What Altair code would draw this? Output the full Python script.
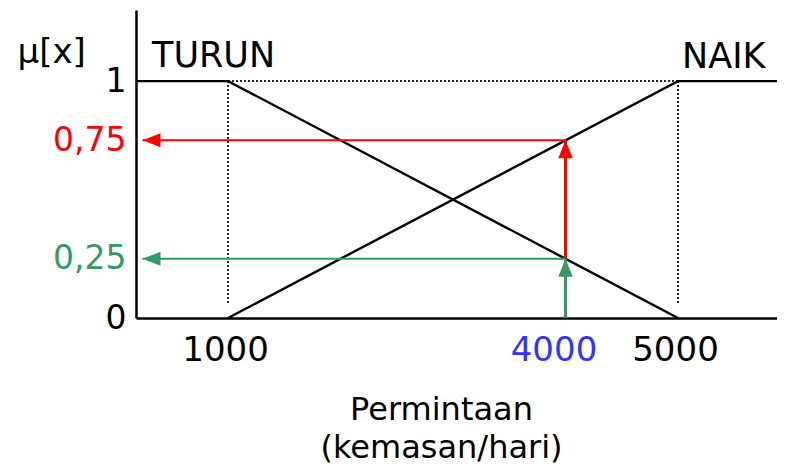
import altair as alt
import pandas as pd

# ---- data ----
turun_x = [0, 1000, 5000]        # TURUN membership vertices (left end runs off the axis)
turun_mu = [1, 1, 0]
naik_x = [1000, 5000, 7000]      # NAIK membership vertices (right end runs off the axis)
naik_mu = [0, 1, 1]

input_x = 4000                   # demand value being evaluated
mu_naik = 0.75                   # membership in NAIK at input_x
mu_turun = 0.25                  # membership in TURUN at input_x

x_ticks = [1000, 4000, 5000]
y_ticks = [0, 0.25, 0.75, 1]

set_names = ["TURUN", "NAIK"]
set_anchor_x = [1000, 5000]

x_title = ["Permintaan", "(kemasan/hari)"]
y_title = "μ[x]"

# ---- styling / layout ----
RED = "#FF0000"
GREEN = "#339966"
BLUE = "#3333FF"
FONT = "DejaVu Sans"

X_DOMAIN = [182, 5880]
Y_DOMAIN = [0, 1.3]
ARROW_TIP_X = 240      # arrows stop just right of the y axis
DOT_BOTTOM = 0.055     # dotted guides stop just above the x axis

x_scale = alt.Scale(domain=X_DOMAIN, nice=False, zero=False)
y_scale = alt.Scale(domain=Y_DOMAIN, nice=False, zero=False)

x_axis = alt.Axis(
    values=x_ticks, format="d", grid=False, ticks=False, domainColor="black", domainWidth=2.5,
    labelFont=FONT, labelFontSize=34, labelPadding=15, labelFlush=False, labelOverlap=False,
    labelColor={"condition": {"test": f"datum.value == {input_x}", "value": BLUE}, "value": "black"},
    labelOffset={"condition": {"test": f"datum.value == {input_x}", "value": -12}, "value": -3},
    title=x_title, titleFont=FONT, titleFontSize=32, titleFontWeight="normal", titleColor="black",
    titleX=305, titleY=101, titleAlign="center", titleBaseline="alphabetic", titleLineHeight=38,
)
y_axis = alt.Axis(
    values=y_ticks, grid=False, ticks=False, domainColor="black", domainWidth=2.5,
    labelFont=FONT, labelFontSize=33, labelPadding=10, labelOverlap=False, labelFlush=False,
    labelExpr="replace(toString(datum.value), '.', ',')",
    labelColor={"condition": [
        {"test": f"datum.value == {mu_naik}", "value": RED},
        {"test": f"datum.value == {mu_turun}", "value": GREEN}], "value": "black"},
    title=y_title, titleAngle=0, titleX=-119, titleY=52, titleAlign="left",
    titleBaseline="alphabetic", titleFont=FONT, titleFontSize=34, titleFontWeight="normal",
    titleColor="black",
)


def X(field="x"):
    return alt.X(f"{field}:Q", scale=x_scale, axis=x_axis)


def Y(field="y"):
    return alt.Y(f"{field}:Q", scale=y_scale, axis=y_axis)


# membership functions
df_lines = pd.DataFrame({
    "x": turun_x + naik_x,
    "y": turun_mu + naik_mu,
    "set": ["TURUN"] * len(turun_x) + ["NAIK"] * len(naik_x),
})
lines = alt.Chart(df_lines).mark_line(color="black", strokeWidth=2.4, clip=True).encode(
    x=X(), y=Y(), detail="set:N"
)

# dotted guides
df_dots = pd.DataFrame({
    "x": [turun_x[1], naik_x[1], turun_x[1]],
    "y": [1, 1, 1],
    "x2": [turun_x[1], naik_x[1], naik_x[1]],
    "y2": [DOT_BOTTOM, DOT_BOTTOM, 1],
})
dots = alt.Chart(df_dots).mark_rule(color="#222222", strokeWidth=2, strokeDash=[2, 2]).encode(
    x=X(), y=Y(), x2="x2:Q", y2="y2:Q"
)


def shaft(x, y, x2, y2, color, width):
    df = pd.DataFrame({"x": [x], "y": [y], "x2": [x2], "y2": [y2]})
    return alt.Chart(df).mark_rule(color=color, strokeWidth=width).encode(
        x=X(), y=Y(), x2="x2:Q", y2="y2:Q"
    )


LEFT_HEAD = "M0,0L2,-0.78L2,0.78Z"
UP_HEAD = "M0,0L-0.8,2L0.8,2Z"


def head(x, y, color, shape):
    df = pd.DataFrame({"x": [x], "y": [y]})
    return alt.Chart(df).mark_point(
        shape=shape, filled=True, color=color, opacity=1, size=324, strokeWidth=0
    ).encode(x=X(), y=Y())


arrows = [
    shaft(input_x, mu_naik, ARROW_TIP_X, mu_naik, RED, 2),
    shaft(input_x, mu_turun, input_x, mu_naik, RED, 3),
    shaft(input_x, mu_turun, ARROW_TIP_X, mu_turun, GREEN, 2),
    shaft(input_x, 0, input_x, mu_turun, GREEN, 3),
    head(ARROW_TIP_X, mu_naik, RED, LEFT_HEAD),
    head(input_x, mu_naik, RED, UP_HEAD),
    head(ARROW_TIP_X, mu_turun, GREEN, LEFT_HEAD),
    head(input_x, mu_turun, GREEN, UP_HEAD),
]

# set names
df_turun = pd.DataFrame({"x": [set_anchor_x[0]], "y": [1], "t": [set_names[0]]})
df_naik = pd.DataFrame({"x": [set_anchor_x[1]], "y": [1], "t": [set_names[1]]})
turun_lbl = alt.Chart(df_turun).mark_text(
    font=FONT, fontSize=35, align="left", baseline="alphabetic", dx=-76, dy=-14, color="black"
).encode(x=X(), y=Y(), text="t:N")
naik_lbl = alt.Chart(df_naik).mark_text(
    font=FONT, fontSize=35, align="left", baseline="alphabetic", dx=4, dy=-13, color="black"
).encode(x=X(), y=Y(), text="t:N")

chart = alt.layer(dots, lines, *arrows, turun_lbl, naik_lbl).properties(
    width=641,
    height=308,
    autosize=alt.AutoSizeParams(type="none"),
    padding={"left": 128, "top": 2, "right": 0, "bottom": 147},
    background="white",
).configure_view(stroke=None)

chart.save("out.html", embed_options={"renderer": "svg", "actions": False})
